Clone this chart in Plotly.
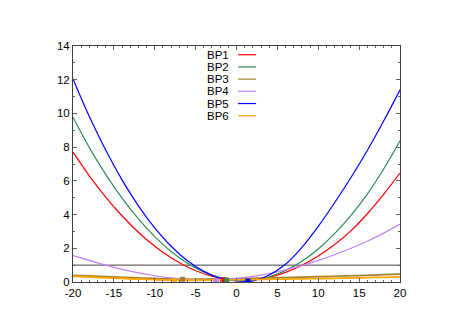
import plotly.graph_objects as go

# ---- data ----
XS = [-20, -18, -16, -14, -12, -10, -8, -6, -4, -2, 0, 2, 4, 6, 8, 10, 12, 14, 16, 18, 20]

BP1 = [7.70, 6.30, 5.04, 3.93, 2.95, 2.12, 1.44, 0.89, 0.49, 0.23, 0.11, 0.13, 0.28, 0.57, 0.99, 1.54, 2.22, 3.03, 4.05, 5.20, 6.46]
BP2 = [9.77, 7.97, 6.38, 4.97, 3.74, 2.69, 1.81, 1.11, 0.60, 0.26, 0.095, 0.11, 0.31, 0.68, 1.23, 1.96, 2.87, 3.95, 5.21, 6.70, 8.38]
BP3 = [0.40, 0.36, 0.32, 0.28, 0.245, 0.21, 0.18, 0.165, 0.17, 0.18, 0.20, 0.22, 0.24, 0.265, 0.29, 0.315, 0.34, 0.37, 0.40, 0.435, 0.47]
BP4 = [1.56, 1.28, 1.00, 0.75, 0.54, 0.37, 0.24, 0.15, 0.10, 0.12, 0.21, 0.33, 0.50, 0.72, 0.98, 1.28, 1.62, 2.00, 2.42, 2.90, 3.44]
BP5 = [12.05, 9.82, 7.83, 6.06, 4.52, 3.21, 2.12, 1.26, 0.63, 0.22, 0.06, 0.07, 0.42, 1.05, 2.05, 3.30, 4.70, 6.20, 7.80, 9.55, 11.40]
BP6 = [0.34, 0.295, 0.25, 0.21, 0.17, 0.135, 0.11, 0.105, 0.11, 0.12, 0.13, 0.145, 0.16, 0.175, 0.19, 0.205, 0.22, 0.24, 0.26, 0.28, 0.30]

NAMES = ["BP1", "BP2", "BP3", "BP4", "BP5", "BP6"]
SERIES = [BP1, BP2, BP3, BP4, BP5, BP6]

# minimum markers (x, y) per series
MIN_X = [-1.53, -1.2, -6.6, -2.5, 1.4, -7.6]
MIN_Y = [0.14, 0.12, 0.16, 0.08, 0.05, 0.10]

HLINE_X = [-20, 20]
HLINE_Y = [1, 1]

X_TICKS = [-20, -15, -10, -5, 0, 5, 10, 15, 20]
Y_TICKS = [0, 2, 4, 6, 8, 10, 12, 14]

# ---- styles ----
COLORS = ["#ff0000", "#2e8b57", "#a08028", "#c080ff", "#0000ff", "#ffa500"]
WIDTHS = [1.2, 1.2, 1.7, 1.2, 1.2, 1.8]
FONT = "Liberation Sans"
FS = 11.5

fig = go.Figure()

fig.add_trace(go.Scatter(x=HLINE_X, y=HLINE_Y, mode="lines",
                         line=dict(color="#404040", width=1), showlegend=False,
                         hoverinfo="skip"))

for name, ys, c, w in zip(NAMES, SERIES, COLORS, WIDTHS):
    fig.add_trace(go.Scatter(x=XS, y=ys, mode="lines", name=name,
                             line=dict(color=c, width=w, shape="spline", smoothing=1.0),
                             showlegend=False))

for name, mx, my, c in zip(NAMES, MIN_X, MIN_Y, COLORS):
    fig.add_trace(go.Scatter(x=[mx], y=[my], mode="markers", name=name + " min",
                             marker=dict(symbol="square", size=5, color=c, line=dict(width=0)),
                             showlegend=False))

# manual legend: text then line sample to the right (gnuplot style)
LEG_TOP = 0.963
LEG_STEP = 0.0517
for i, (name, c) in enumerate(zip(NAMES, COLORS)):
    yy = LEG_TOP - i * LEG_STEP
    fig.add_annotation(x=0.483, y=yy, xref="paper", yref="paper", text=name,
                       showarrow=False, xanchor="right", yanchor="middle",
                       font=dict(family=FONT, size=FS, color="black"))
    fig.add_shape(type="line", xref="paper", yref="paper", x0=0.505, x1=0.560,
                  y0=yy, y1=yy, line=dict(color=c, width=1.2))

axis_common = dict(
    showline=True, linecolor="#404040", linewidth=1, mirror="allticks",
    ticks="inside", ticklen=4, tickwidth=1, tickcolor="#606060",
    showgrid=False, zeroline=False,
    tickfont=dict(family=FONT, size=FS, color="black"),
)

fig.update_xaxes(range=[-20, 20], tickvals=X_TICKS, ticktext=[str(v) for v in X_TICKS],
                 minor=dict(dtick=1, ticks="inside", ticklen=2, tickcolor="#606060", showgrid=False),
                 **axis_common)
fig.update_yaxes(range=[0, 14], tickvals=Y_TICKS, ticktext=[str(v) for v in Y_TICKS],
                 minor=dict(dtick=1, ticks="inside", ticklen=2, tickcolor="#606060", showgrid=False),
                 **axis_common)

fig.update_layout(
    width=452, height=320,
    margin=dict(l=65, r=60, t=38, b=46),
    paper_bgcolor="white", plot_bgcolor="white",
    font=dict(family=FONT, size=FS, color="black"),
)

fig.write_html("out.html")
